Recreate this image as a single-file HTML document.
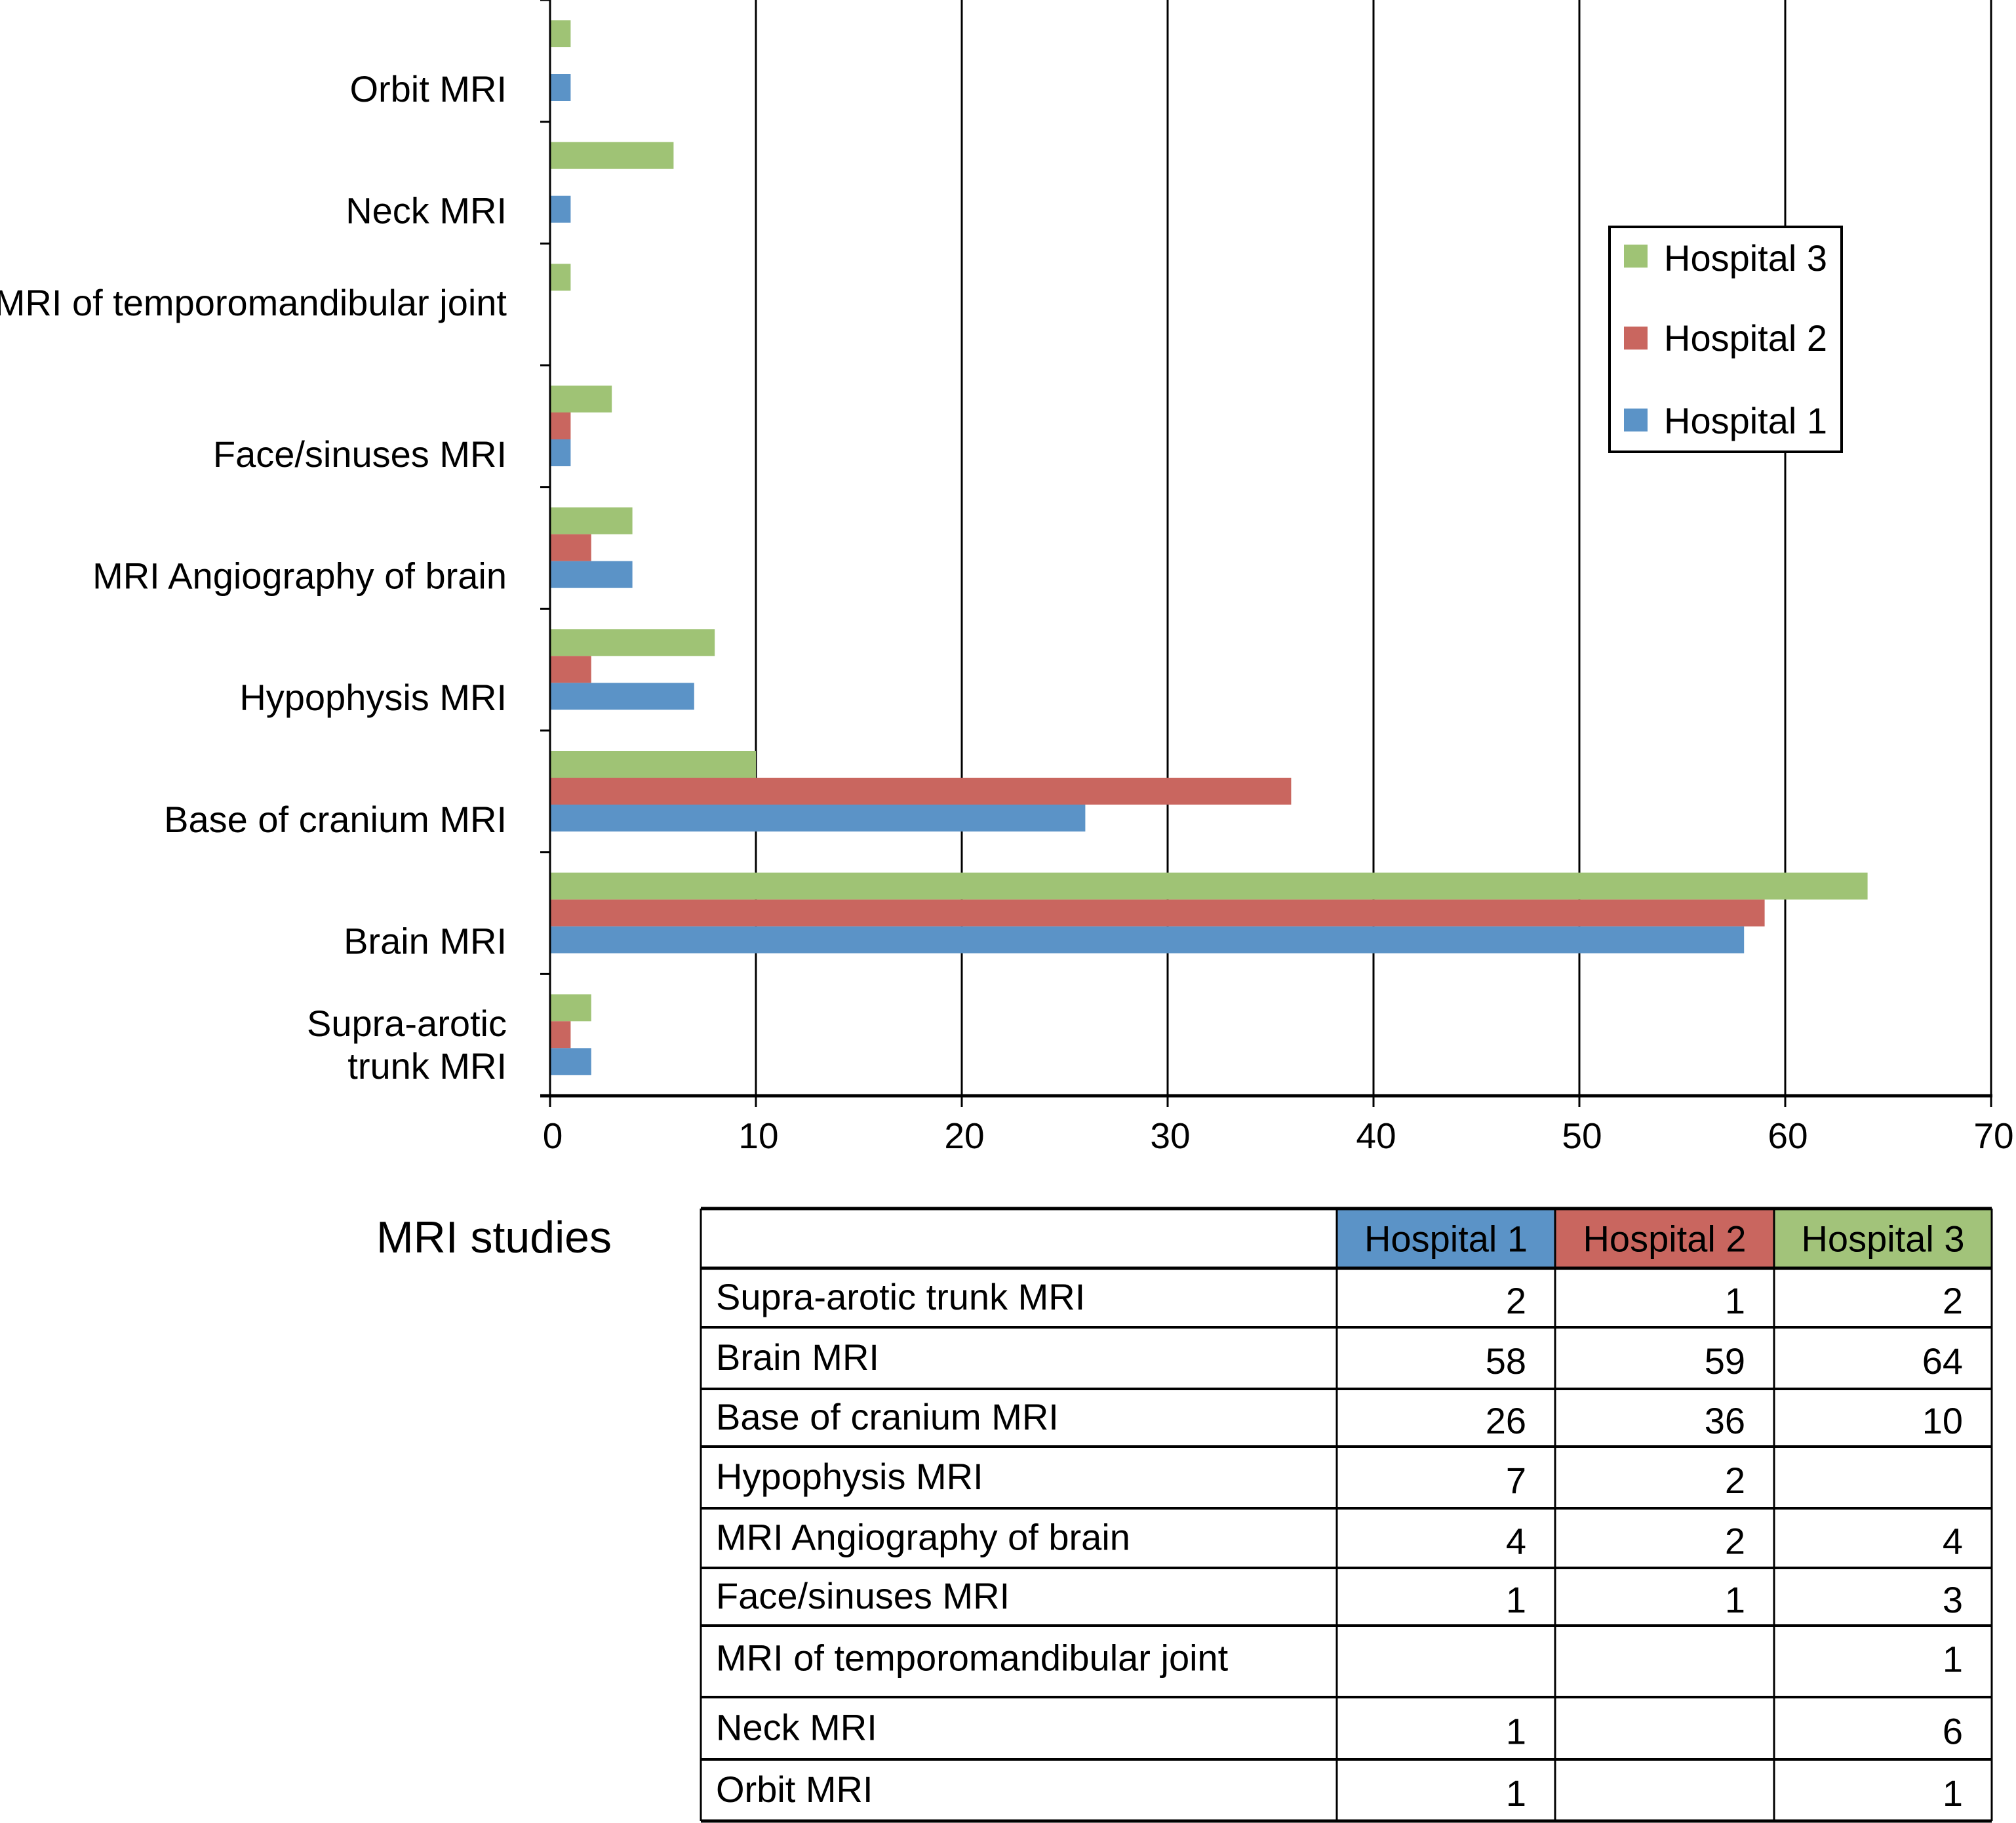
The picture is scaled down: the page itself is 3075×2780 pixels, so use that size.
<!DOCTYPE html>
<html><head><meta charset="utf-8"><style>
html,body{margin:0;padding:0;background:#fff;}
svg{display:block;font-family:"Liberation Sans",Arial,sans-serif;}
</style></head><body>
<svg id="root" width="3075" height="2780" viewBox="0 0 3075 2780" xmlns="http://www.w3.org/2000/svg">
<g id="grid"></g>
<g id="bars"></g>
<g id="axes"></g>
<g id="legend">
  <rect x="2455" y="346" width="354" height="343" fill="#fff" stroke="#000" stroke-width="4"/>
  <rect x="2477" y="373" width="36" height="35" fill="#9fc375"/>
  <text x="2538" y="413" font-size="56">Hospital 3</text>
  <rect x="2477" y="498" width="36" height="35" fill="#c9665f"/>
  <text x="2538" y="535" font-size="56">Hospital 2</text>
  <rect x="2477" y="623" width="36" height="35" fill="#5b93c7"/>
  <text x="2538" y="661" font-size="56">Hospital 1</text>
</g>
<text x="933" y="1910" font-size="68" text-anchor="end">MRI studies</text>
<g id="table"></g>
</svg>
<script>
// data (bottom-to-top category order, same as table order)
const categories = ["Supra-arotic trunk MRI","Brain MRI","Base of cranium MRI","Hypophysis MRI","MRI Angiography of brain","Face/sinuses MRI","MRI of temporomandibular joint","Neck MRI","Orbit MRI"];
const hospital1 = [2,58,26,7,4,1,null,1,1];
const hospital2 = [1,59,36,2,2,1,null,null,null];
const hospital3 = [2,64,10,8,4,3,1,6,1];
const tableHospital3 = [2,64,10,null,4,3,1,6,1];
const xTicks = [0,10,20,30,40,50,60,70];
const seriesNames = ["Hospital 1","Hospital 2","Hospital 3"];

const NS="http://www.w3.org/2000/svg";
function mk(tag,attrs,parent,text){const e=document.createElementNS(NS,tag);for(const k in attrs)e.setAttribute(k,attrs[k]);if(text!==undefined)e.textContent=text;parent.appendChild(e);return e;}
const X0=839, X1=3037, YT=0, YB=1671, XMAX=70;
const xs=v=>X0+v*(X1-X0)/XMAX;
const band=(YB-YT)/categories.length;
const bandTop=i=>YB-(i+1)*band;
const grid=document.getElementById('grid'),bars=document.getElementById('bars'),axes=document.getElementById('axes'),table=document.getElementById('table');
const FS=56;
xTicks.forEach(t=>{
  if(t>0){const g=mk('line',{x1:xs(t),x2:xs(t),y1:YT,y2:YB,stroke:'#000','stroke-width':3},grid);
  
  }
  const tk=mk('line',{x1:xs(t),x2:xs(t),y1:YB,y2:YB+17,stroke:'#000','stroke-width':3},axes);
  
  
  const lb=mk('text',{x:xs(t)+4,y:YB+80,'font-size':55,'text-anchor':'middle'},axes,String(t));
  
  
});
const series=[[hospital3,'#9fc375',0],[hospital2,'#c9665f',1],[hospital1,'#5b93c7',2]];
const barH=41, groupOff=31;
categories.forEach((c,i)=>{
  series.forEach(([arr,col,k])=>{
    const v=arr[i]; if(v==null) return;
    const r=mk('rect',{x:X0,y:bandTop(i)+groupOff+k*barH,width:xs(v)-X0,height:barH,fill:col},bars);
    
    
  });
  const yc=bandTop(i)+band/2;
  if(i===0){
    const a=mk('text',{x:773,y:yc-18+20,'font-size':FS,'text-anchor':'end'},axes,'Supra-arotic');
    
    
    const b=mk('text',{x:773,y:yc+47+20,'font-size':FS,'text-anchor':'end'},axes,'trunk MRI');
    
    
  } else {
    const off=(i===6)?-3:42;
    const l=mk('text',{x:773,y:yc+off+20,'font-size':FS,'text-anchor':'end'},axes,c);
    
    
  }
  const yt=mk('line',{x1:824,x2:X0,y1:bandTop(i),y2:bandTop(i),stroke:'#000','stroke-width':3},axes);
  
  
});
let a1=mk('line',{x1:X0,x2:X0,y1:YT,y2:YB,stroke:'#000','stroke-width':3},axes);


let a2=mk('line',{x1:X1,x2:X1,y1:YT,y2:YB,stroke:'#000','stroke-width':3},axes);


let a3=mk('line',{x1:824,x2:X1+2,y1:YB,y2:YB,stroke:'#000','stroke-width':5},axes);



// table
const colX=[1069,2039,2372,2706,3038];
const rowY=[1843,1934,2024,2118,2206,2300,2391,2479,2588,2683,2777];
const hdrCol=['#5b93c7','#c9665f','#a2c37a'];
for(let j=0;j<3;j++){
  const r=mk('rect',{x:colX[j+1],y:rowY[0],width:colX[j+2]-colX[j+1],height:rowY[1]-rowY[0],fill:hdrCol[j]},table);
  
  
  const t=mk('text',{x:(colX[j+1]+colX[j+2])/2,y:(rowY[0]+rowY[1])/2+20,'font-size':FS,'text-anchor':'middle'},table,seriesNames[j]);
  
  
}
const tcols=[hospital1,hospital2,tableHospital3];
categories.forEach((c,i)=>{
  const yc=(rowY[i+1]+rowY[i+2])/2;
  const t=mk('text',{x:1092,y:yc+(i===6?-4:0)+18,'font-size':FS},table,c);
  
  
  tcols.forEach((arr,j)=>{
    if(arr[i]==null) return;
    const n=mk('text',{x:colX[j+2]-44,y:yc+(i===6?-4:4)+20,'font-size':FS,'text-anchor':'end'},table,String(arr[i]));
    
    
  });
});
rowY.forEach((y,k)=>{
  const l=mk('line',{x1:colX[0],x2:colX[4],y1:y,y2:y,stroke:'#000','stroke-width':(k<=1||k===10)?5:4},table);
  
  
});
colX.forEach((x,k)=>{
  const l=mk('line',{x1:x,x2:x,y1:rowY[0],y2:rowY[10],stroke:'#000','stroke-width':3},table);
  
  
});
</script>
</body></html>
